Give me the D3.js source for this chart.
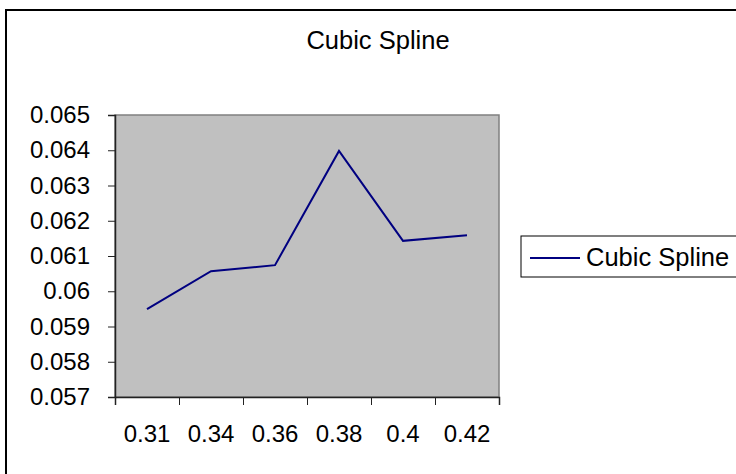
<!DOCTYPE html>
<html>
<head>
<meta charset="utf-8">
<script src="https://cdn.jsdelivr.net/npm/d3@7"></script>
<style>
  body { margin: 0; background: #fff; }
  text { font-family: "Liberation Sans", Arial, sans-serif; fill: #000; }
</style>
</head>
<body>
<div id="theChart"></div>
<script>
var categories = ['0.31', '0.34', '0.36', '0.38', '0.4', '0.42']
var values = [0.05949, 0.06057, 0.06074, 0.06398, 0.06143, 0.06159]
var yTicks = [0.057, 0.058, 0.059, 0.06, 0.061, 0.062, 0.063, 0.064, 0.065]
var seriesName = 'Cubic Spline'
var title = 'Cubic Spline'

var svg = d3.select('#theChart').append('svg')
  .attr('width', 736)
  .attr('height', 474)

// outer chart frame, runs off the right and bottom edges
svg.append('rect')
  .attr('x', 6).attr('y', 10)
  .attr('width', 800).attr('height', 600)
  .attr('fill', '#fff')
  .attr('stroke', '#000')
  .attr('stroke-width', 2)

var plot = {left: 115, right: 499, top: 115, bottom: 397}

var x = d3.scaleBand().domain(categories).range([plot.left, plot.right]).padding(0)
var y = d3.scaleLinear().domain([0.057, 0.065]).range([plot.bottom, plot.top])

// gray plot area
svg.append('rect')
  .attr('x', plot.left).attr('y', plot.top)
  .attr('width', plot.right - plot.left).attr('height', plot.bottom - plot.top)
  .attr('fill', '#c0c0c0')
  .attr('stroke', '#808080')
  .attr('stroke-width', 1.5)

// y axis
var yAxis = svg.append('g')
  .attr('transform', 'translate(' + plot.left + ',0)')
  .call(d3.axisLeft(y).tickValues(yTicks).tickSize(7).tickPadding(18).tickFormat(d => String(d)))
yAxis.select('.domain').attr('stroke', '#222').attr('stroke-width', 1.5)
yAxis.selectAll('.tick line').attr('stroke', '#222')
yAxis.selectAll('text').style('font-size', '24px').attr('fill', '#000')

// x axis: tick marks on band edges, labels centered in bands
var xEdges = d3.scaleLinear().domain([0, categories.length]).range([plot.left, plot.right])
var xAxis = svg.append('g')
  .attr('transform', 'translate(0,' + plot.bottom + ')')
  .call(d3.axisBottom(xEdges).ticks(categories.length).tickSize(8).tickFormat(''))
xAxis.select('.domain').attr('stroke', '#222').attr('stroke-width', 1.5)
xAxis.selectAll('.tick line').attr('stroke', '#222')

var xLabels = svg.append('g')
  .attr('transform', 'translate(0,' + plot.bottom + ')')
  .call(d3.axisBottom(x).tickSize(0).tickPadding(28))
xLabels.select('.domain').remove()
xLabels.selectAll('text').style('font-size', '24px').attr('fill', '#000')

// series line
var line = d3.line()
  .x((d, i) => x(categories[i]) + x.bandwidth() / 2)
  .y(d => y(d))

svg.append('path')
  .attr('d', line(values))
  .attr('fill', 'none')
  .attr('stroke', '#000080')
  .attr('stroke-width', 2)

// title
svg.append('text')
  .attr('x', 378).attr('y', 49)
  .attr('text-anchor', 'middle')
  .style('font-size', '25.5px')
  .text(title)

// legend
var legend = svg.append('g').attr('transform', 'translate(521,236)')
legend.append('rect')
  .attr('width', 260).attr('height', 41)
  .attr('fill', '#fff')
  .attr('stroke', '#000')
  .attr('stroke-width', 1)
legend.append('line')
  .attr('x1', 9).attr('x2', 59)
  .attr('y1', 22).attr('y2', 22)
  .attr('stroke', '#000080')
  .attr('stroke-width', 2)
legend.append('text')
  .attr('x', 65).attr('y', 30)
  .style('font-size', '25.5px')
  .text(seriesName)
</script>
</body>
</html>
